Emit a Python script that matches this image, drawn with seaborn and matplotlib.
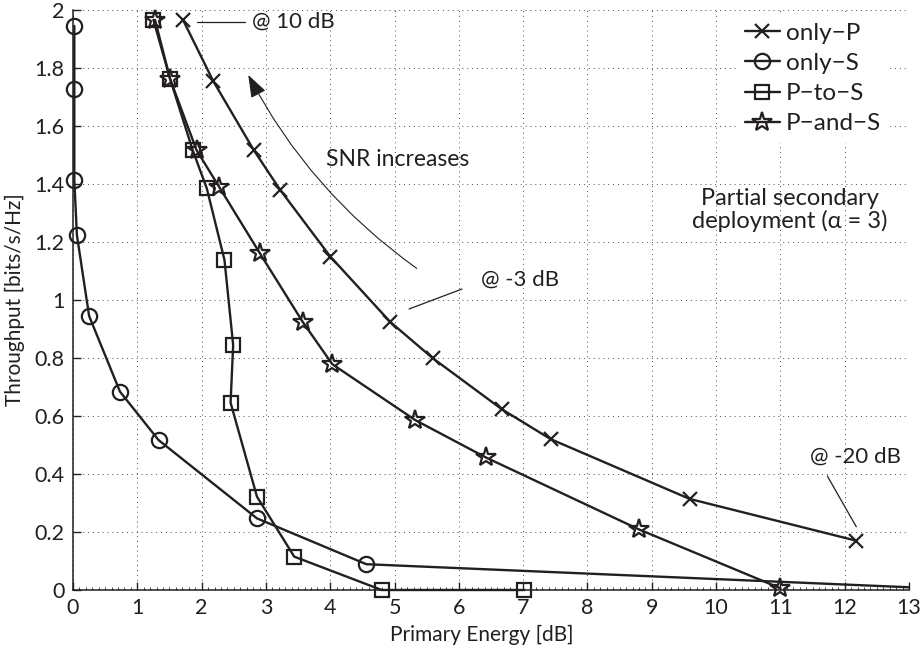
import matplotlib
matplotlib.use("Agg")
import matplotlib.pyplot as plt
import seaborn as sns
import numpy as np
from matplotlib.patches import FancyArrowPatch, Rectangle
from matplotlib.ticker import FuncFormatter, MultipleLocator

# Throughput vs. primary energy for four relaying schemes
only_p_x = [1.71, 2.18, 2.81, 3.22, 4.00, 4.93, 5.59, 6.67, 7.43, 9.59, 12.18]
only_p_y = [1.966, 1.755, 1.517, 1.38, 1.15, 0.925, 0.80, 0.623, 0.52, 0.314, 0.17]

only_s_x = [0.02, 0.02, 0.02, 0.06, 0.25, 0.73, 1.33, 2.86, 4.56, 14.0]
only_s_y = [1.945, 1.729, 1.414, 1.224, 0.945, 0.684, 0.517, 0.247, 0.089, 0.0]

p_to_s_x = [1.25, 1.51, 1.86, 2.08, 2.355, 2.49, 2.45, 2.86, 3.44, 4.80, 7.02]
p_to_s_y = [1.966, 1.762, 1.517, 1.385, 1.138, 0.845, 0.646, 0.322, 0.115, 0.0, 0.0]

p_and_s_x = [1.275, 1.51, 1.92, 2.275, 2.90, 3.57, 4.03, 5.32, 6.42, 8.80, 11.0]
p_and_s_y = [1.966, 1.762, 1.517, 1.389, 1.163, 0.925, 0.779, 0.586, 0.457, 0.209, 0.006]

x_ticks = list(range(0, 14))
y_ticks = [0, 0.2, 0.4, 0.6, 0.8, 1, 1.2, 1.4, 1.6, 1.8, 2]

sns.set_style("ticks")
plt.rcParams["font.family"] = ["Lato", "DejaVu Sans"]
plt.rcParams["font.size"] = 15

INK = "#231f20"

fig = plt.figure(figsize=(9.21, 6.5), dpi=100)
ax = fig.add_axes([0.0793, 0.0923, 0.9077, 0.8923])

series = [
    ("only\u2212P", only_p_x, only_p_y, "x", 10),
    ("only\u2212S", only_s_x, only_s_y, "o", 11),
    ("P\u2212to\u2212S", p_to_s_x, p_to_s_y, "s", 10),
    ("P\u2212and\u2212S", p_and_s_x, p_and_s_y, "*", 15),
]

# clip region: open to the left and bottom so edge markers stay whole,
# but cut at the right edge of the axes
clip = Rectangle((-0.1, -0.1), 1.1, 1.2, transform=ax.transAxes,
                 facecolor="none", edgecolor="none")

for name, xs, ys, mk, ms in series:
    n_before = len(ax.lines)
    sns.lineplot(x=xs, y=ys, ax=ax, sort=False, estimator=None,
                 color=INK, linewidth=1.7, marker=mk, markersize=ms,
                 markerfacecolor="none", markeredgecolor=INK,
                 markeredgewidth=1.6, label=name)
    for ln in ax.lines[n_before:]:
        ln.set_clip_path(clip)

ax.set_xlim(0, 13)
ax.set_ylim(0, 2)
ax.set_xticks(x_ticks)
ax.set_yticks(y_ticks)
ax.yaxis.set_major_formatter(FuncFormatter(lambda v, p: f"{v:g}"))
ax.xaxis.set_minor_locator(MultipleLocator(0.1))

ax.grid(True, which="major", color="#4a4a4a", linestyle=(0, (1, 4)), linewidth=0.7)
ax.set_axisbelow(True)
for side in ("top", "right"):
    ax.spines[side].set_visible(False)
for side in ("left", "bottom"):
    ax.spines[side].set_color(INK)
    ax.spines[side].set_linewidth(1.1)
ax.tick_params(which="major", direction="in", length=6, width=1.0, colors=INK,
               labelsize=15.5, pad=6)
ax.tick_params(axis="x", which="minor", direction="in", length=2, width=0.6, colors=INK)

ax.set_xlabel("Primary Energy [dB]", fontsize=15, color=INK)
ax.set_ylabel("Throughput [bits/s/Hz]", fontsize=15, color=INK)
ax.xaxis.set_label_coords(0.489, -0.06)
ax.yaxis.set_label_coords(-0.057, 0.5)

# annotations for SNR end points
ax.plot([1.92, 2.675], [1.96, 1.96], color=INK, lw=0.9)
ax.text(2.78, 1.96, "@ 10 dB", fontsize=16, color=INK, va="center", ha="left")

ax.plot([5.225, 6.05], [0.969, 1.038], color=INK, lw=0.9)
ax.text(6.35, 1.069, "@ -3 dB", fontsize=16, color=INK, va="center", ha="left")

ax.plot([11.73, 12.18], [0.393, 0.218], color=INK, lw=0.9)
ax.text(12.16, 0.459, "@ -20 dB", fontsize=16, color=INK, va="center", ha="center")

arrow = FancyArrowPatch((5.345, 1.109), (2.725, 1.776),
                        connectionstyle="arc3,rad=-0.12",
                        arrowstyle="-|>,head_length=1.0,head_width=0.36",
                        mutation_scale=14, color=INK, lw=0.8,
                        shrinkA=0, shrinkB=0)
ax.add_patch(arrow)
ax.text(5.05, 1.483, "SNR increases", fontsize=16.5, color=INK, va="center", ha="center")

ax.text(11.15, 1.309, "Partial secondary\ndeployment (\u03b1 = 3)", fontsize=17,
        color=INK, va="center", ha="center", linespacing=1.05)

leg = ax.legend(loc="upper right", bbox_to_anchor=(0.99, 1.012), frameon=True,
                fancybox=False, edgecolor="white", facecolor="white", framealpha=1,
                fontsize=17.5, handlelength=1.45, handletextpad=0.25,
                labelspacing=0.38, borderpad=0.3, numpoints=1)
for t in leg.get_texts():
    t.set_color(INK)

fig.savefig("out.png", dpi=100)
